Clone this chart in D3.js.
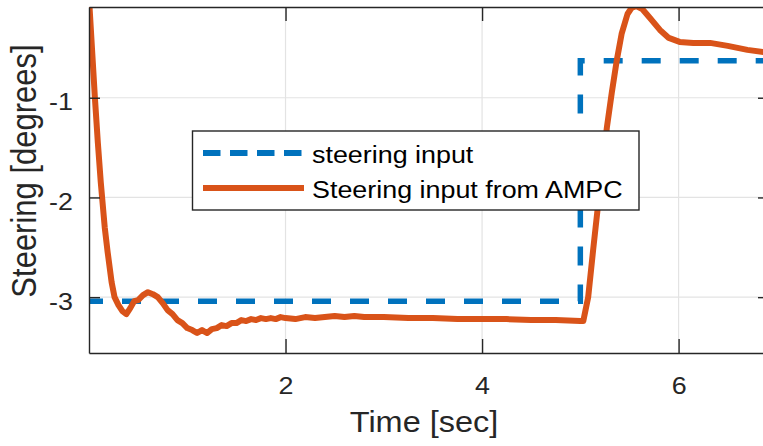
<!DOCTYPE html>
<html>
<head>
<meta charset="utf-8">
<script src="https://cdn.jsdelivr.net/npm/d3@7"></script>
<style>
  html, body { margin: 0; padding: 0; background: #fff; }
  svg { display: block; font-family: "Liberation Sans", Arial, sans-serif; }
</style>
</head>
<body>
<svg id="chart" width="763" height="446"></svg>
<script>
// ---- data ----
const xTicks = [2, 4, 6];
const yTicks = [-1, -2, -3];
const xLabel = "Time [sec]";
const yLabel = "Steering [degrees]";
const seriesNames = ["steering input", "Steering input from AMPC"];

const refTime  = [0, 5, 5, 6.92];
const refSteer = [-3.04, -3.04, -0.63, -0.63];

const ampcTime = [
  0, 0.03, 0.06, 0.09, 0.12, 0.16, 0.19, 0.23, 0.26, 0.3,
  0.34, 0.38, 0.42, 0.46, 0.5, 0.55, 0.6, 0.65, 0.7, 0.75,
  0.8, 0.85, 0.9, 0.95, 1.0, 1.05, 1.1, 1.15, 1.2, 1.25,
  1.3, 1.35, 1.4, 1.45, 1.5, 1.55, 1.6, 1.65, 1.7, 1.75,
  1.8, 1.85, 1.9, 1.95, 2.0, 2.1, 2.2, 2.3, 2.4, 2.5,
  2.6, 2.7, 2.8, 2.9, 3.0, 3.25, 3.5, 3.75, 4.0, 4.25,
  4.5, 4.75, 5.0, 5.03, 5.08, 5.13, 5.2, 5.27, 5.32, 5.37,
  5.42, 5.48, 5.52, 5.57, 5.63, 5.7, 5.81, 5.9, 6.01, 6.15,
  6.32, 6.5, 6.7, 6.92
];
const ampcSteer = [
  0, -0.5, -1.0, -1.45, -1.85, -2.3, -2.55, -2.85, -3.0, -3.08,
  -3.14, -3.17, -3.11, -3.04, -3.03, -2.98, -2.95, -2.97, -3.0, -3.06,
  -3.13, -3.17, -3.23, -3.26, -3.31, -3.33, -3.36, -3.33, -3.36, -3.32,
  -3.31, -3.28, -3.29, -3.26, -3.26, -3.23, -3.24, -3.22, -3.23, -3.21,
  -3.22, -3.21, -3.22, -3.2, -3.21, -3.22, -3.2, -3.21, -3.2, -3.19,
  -3.2, -3.19, -3.2, -3.2, -3.2, -3.21, -3.21, -3.22, -3.22, -3.22,
  -3.23, -3.23, -3.24, -3.24, -3.0, -2.53, -1.9, -1.3, -0.95, -0.63,
  -0.36, -0.16, -0.1, -0.08, -0.11, -0.19, -0.32, -0.4, -0.44, -0.45,
  -0.45, -0.48, -0.52, -0.55
];

// ---- layout ----
const W = 763, H = 446;
const L = 89, R = 769, T = 7, B = 353;
const SX = 1.12; // horizontal text stretch seen in the reference
const axisColor = "#262626";
const gridColor = "#e3e3e3";
const blue = "#0072BD", orange = "#D95319";

const svg = d3.select("#chart");
const x = d3.scaleLinear().domain([0, 6.92]).range([L, R]);
const y = d3.scaleLinear().domain([-3.56, -0.09]).range([B, T]);

svg.append("defs").append("clipPath").attr("id", "clip")
  .append("rect").attr("x", L).attr("y", T).attr("width", R - L).attr("height", B - T);

// grid
const grid = svg.append("g");
grid.selectAll(".gx").data(xTicks).join("line")
  .attr("x1", d => x(d)).attr("x2", d => x(d)).attr("y1", T).attr("y2", B)
  .attr("stroke", gridColor).attr("stroke-width", 1.2);
grid.selectAll(".gy").data(yTicks).join("line")
  .attr("x1", L).attr("x2", R).attr("y1", d => y(d)).attr("y2", d => y(d))
  .attr("stroke", gridColor).attr("stroke-width", 1.2);

// lines
const plot = svg.append("g").attr("clip-path", "url(#clip)");
const ref = refTime.map((t, i) => [t, refSteer[i]]);
const ampc = ampcTime.map((t, i) => [t, ampcSteer[i]]);
const line = d3.line().x(d => x(d[0])).y(d => y(d[1]));

plot.append("path").datum(ref).attr("d", line)
  .attr("fill", "none").attr("stroke", blue).attr("stroke-width", 5.5)
  .attr("stroke-dasharray", "19,19").attr("stroke-dashoffset", 5);
plot.append("path").datum(ampc).attr("d", line)
  .attr("fill", "none").attr("stroke", orange).attr("stroke-width", 6)
  .attr("stroke-linejoin", "round");

// axes (inward ticks)
const fmt = d => String(d);
function styleAxis(g) {
  g.select(".domain").attr("stroke", axisColor).attr("stroke-width", 1.4);
  g.selectAll(".tick line").attr("stroke", axisColor).attr("stroke-width", 1.4);
  g.selectAll("text").attr("fill", axisColor).attr("font-size", 24)
    .attr("font-family", "'Liberation Sans', Arial, sans-serif");
}
const gx = svg.append("g").attr("transform", `translate(0,${B})`)
  .call(d3.axisBottom(x).tickValues(xTicks).tickSizeInner(-14).tickSizeOuter(0).tickPadding(24).tickFormat(fmt));
styleAxis(gx);
gx.selectAll("text").attr("transform", `scale(${SX},1)`);

const gxt = svg.append("g").attr("transform", `translate(0,${T})`)
  .call(d3.axisTop(x).tickValues(xTicks).tickSizeInner(-14).tickSizeOuter(0).tickFormat(""));
styleAxis(gxt);

const gy = svg.append("g").attr("transform", `translate(${L},0)`)
  .call(d3.axisLeft(y).tickValues(yTicks).tickSizeInner(-11).tickSizeOuter(0).tickPadding(16).tickFormat(fmt));
styleAxis(gy);
gy.selectAll("text").attr("transform", `scale(${SX},1)`).attr("x", -16 / SX).attr("dy", "0.5em");

const gyr = svg.append("g").attr("transform", `translate(${R},0)`)
  .call(d3.axisRight(y).tickValues(yTicks).tickSizeInner(-11).tickSizeOuter(0).tickFormat(""));
styleAxis(gyr);

// axis labels
svg.append("text")
  .attr("transform", `translate(424,432) scale(${SX},1)`)
  .attr("text-anchor", "middle").attr("font-size", 29).attr("fill", axisColor)
  .text(xLabel);
svg.append("text")
  .attr("transform", `translate(36,171) scale(${SX},1) rotate(-90)`)
  .attr("text-anchor", "middle").attr("font-size", 31).attr("fill", axisColor)
  .text(yLabel);

// legend
const lg = svg.append("g");
lg.append("rect").attr("x", 192.5).attr("y", 131).attr("width", 446.5).attr("height", 79)
  .attr("fill", "#fff").attr("stroke", axisColor).attr("stroke-width", 1.4);
const legendRows = [
  { name: seriesNames[0], color: blue, dash: "17.5,9.5", y: 153 },
  { name: seriesNames[1], color: orange, dash: null, y: 188 }
];
legendRows.forEach(r => {
  lg.append("line").attr("x1", 203).attr("x2", 304).attr("y1", r.y).attr("y2", r.y)
    .attr("stroke", r.color).attr("stroke-width", 6)
    .attr("stroke-dasharray", r.dash);
  lg.append("text")
    .attr("transform", `translate(312,${r.y + 10}) scale(${SX},1)`)
    .attr("font-size", 24).attr("fill", "#000")
    .text(r.name);
});
</script>
</body>
</html>
